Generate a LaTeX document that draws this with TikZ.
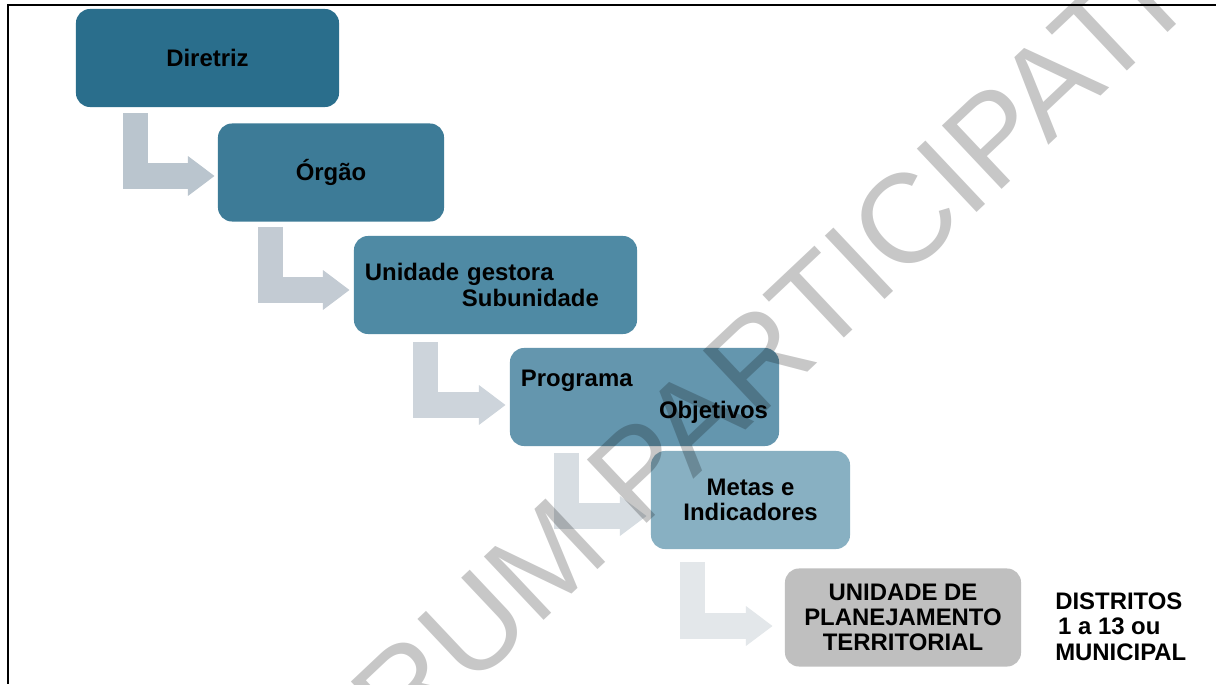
\documentclass[tikz,border=0pt]{standalone}
\usepackage{fontspec}
\setmainfont{Liberation Sans}
\usetikzlibrary{calc,arrows.meta}

\definecolor{toneA}{RGB}{42,110,140}
\definecolor{toneB}{RGB}{61,123,151}
\definecolor{toneC}{RGB}{79,138,164}
\definecolor{toneD}{RGB}{100,150,174}
\definecolor{toneE}{RGB}{136,176,194}
\definecolor{toneF}{RGB}{191,191,191}
\definecolor{arrowA}{RGB}{186,197,206}
\definecolor{arrowB}{RGB}{195,203,211}
\definecolor{arrowC}{RGB}{205,212,219}
\definecolor{arrowD}{RGB}{215,221,226}
\definecolor{arrowE}{RGB}{227,231,234}

\tikzset{
  stage/.style={rounded corners=0.35cm, minimum height=2.45cm, inner sep=0.275cm,
    align=center, font=\bfseries\fontsize{17}{18}\selectfont},
  stagearrow/.style={line width=18pt, miter limit=10, -{Triangle[length=19pt,width=27pt]}},
  watermark/.style={inner sep=0pt, text=black, text opacity=0.22,
    font=\fontsize{90}{96}\selectfont}
}

\begin{document}
\begin{tikzpicture}[x=0.025cm, y=-0.025cm]
	\clip (0,0) rectangle (1216,684);
	\fill[white] (0,0) rectangle (1216,684);
	\draw[line width=1.4pt] (1216,5) -- (8,5) -- (8,684);

	% etapas
	\node[stage, fill=toneA, minimum width=6.575cm] (diretriz) at (207.5,58) {Diretriz};
	\node[stage, fill=toneB, minimum width=5.65cm] (orgao) at (331,172.5) {Órgão};
	\node[stage, fill=toneC, text width=6.525cm, align=left] (unidade) at (495.5,285)
		{Unidade gestora\\\hspace*{2.425cm}Subunidade};
	\node[stage, fill=toneD, text width=6.175cm, align=left] (programa) at (644.5,397)
		{Programa\\[4.5pt]\hspace*{3.45cm}\mbox{Objetivos}};
	\node[stage, fill=toneE, minimum width=4.975cm] (metas) at (750.5,500) {Metas e\\Indicadores};
	\node[stage, fill=toneF, minimum width=5.9cm] (upt) at (903,617.5)
		{UNIDADE DE\\PLANEJAMENTO\\TERRITORIAL};
	\node[anchor=west, inner sep=0pt, align=left, font=\bfseries\fontsize{17}{18.2}\selectfont]
		(distritos) at (1055,626.5) {DISTRITOS\\\hspace*{0.12em}1 a 13 ou\\MUNICIPAL};

	% setas
	\draw[stagearrow, arrowA] ($(diretriz.south west)+(59.5,6)$) |- ($(orgao.west)+(-3,3.5)$);
	\draw[stagearrow, arrowB] ($(orgao.south west)+(52.5,5)$) |- ($(unidade.west)+(-4,5)$);
	\draw[stagearrow, arrowC] ($(unidade.south west)+(72,8)$) |- ($(programa.west)+(-4,8)$);
	\draw[stagearrow, arrowD] ($(programa.south west)+(56.5,7)$) |- ($(metas.west)+(-4,16)$);
	\draw[stagearrow, arrowE] ($(metas.south west)+(42,13)$) |- ($(upt.west)+(-12,8.5)$);

	% marca d'agua
	\node[watermark, rotate=43.3, anchor=base west] (marca) at (275.7,873.4) {FÓRUM PARTICIPATIVO};
\end{tikzpicture}
\end{document}
